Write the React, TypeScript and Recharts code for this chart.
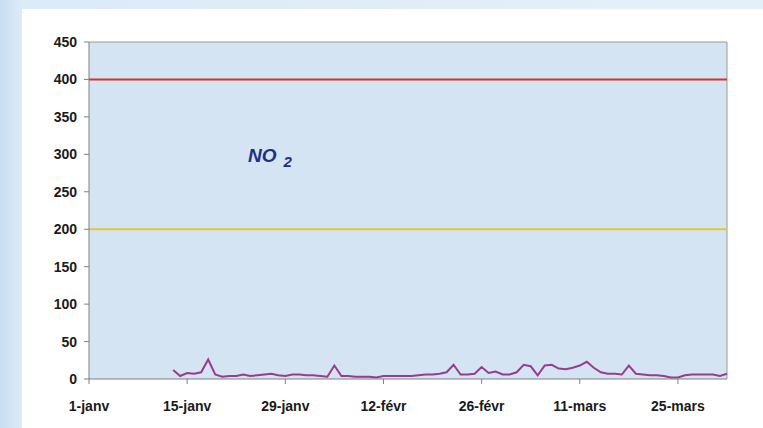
import React from 'react';
import { LineChart, Line, XAxis, YAxis, CartesianGrid, ReferenceLine } from 'recharts';

// day index 0 = 1-janv (leap year), 91 = 1-avril
const firstDay = 12;
const no2Values = [
  12, 4, 8, 7, 9, 26, 6, 3, 4, 4, 6, 4, 5, 6, 7, 5, 4, 6, 6, 5,
  5, 4, 3, 18, 4, 4, 3, 3, 3, 2, 4, 4, 4, 4, 4, 5, 6, 6, 7, 9,
  19, 6, 6, 7, 16, 8, 10, 6, 6, 9, 19, 17, 5, 18, 19, 14, 13, 15, 18, 23,
  15, 9, 7, 7, 6, 18, 7, 6, 5, 5, 4, 2, 2, 5, 6, 6, 6, 6, 4, 7,
];
const tickDays = [0, 14, 28, 42, 56, 70, 84];
const tickLabels = ['1-janv', '15-janv', '29-janv', '12-févr', '26-févr', '11-mars', '25-mars'];
const yTicks = [0, 50, 100, 150, 200, 250, 300, 350, 400, 450];
const limitHigh = 400;
const limitLow = 200;

const data = no2Values.map((v, i) => ({ day: firstDay + i, no2: v }));

const tickStyle = { fontSize: 14, fontWeight: 'bold', fontFamily: 'Liberation Sans, Arial, sans-serif', fill: '#1a1a1a' };

export default function App() {
  return (
    <div style={{ position: 'fixed', left: 0, top: 0, width: 763, height: 428, background: 'linear-gradient(90deg, #c8ddf2 0px, #dcebf8 22px, #e4eff9 100%)' }}>
      <div style={{ position: 'absolute', left: 22, top: 9, width: 741, height: 419, background: '#ffffff' }}>
        <LineChart width={741} height={419} data={data} margin={{ top: 33, right: 36, bottom: 19, left: 17 }}>
          <CartesianGrid fill="#d4e4f3" fillOpacity={1} horizontal={false} vertical={false} />
          <XAxis
            type="number"
            dataKey="day"
            domain={[0, 91]}
            ticks={tickDays}
            tickFormatter={(d) => tickLabels[tickDays.indexOf(d)]}
            tick={tickStyle}
            stroke="#7f8080"
            tickSize={5}
            tickMargin={17}
            interval={0}
            height={30}
          />
          <YAxis
            domain={[0, 450]}
            ticks={yTicks}
            tick={tickStyle}
            stroke="#7f8080"
            width={50}
            tickSize={5}
            tickMargin={7}
            interval={0}
          />
          <ReferenceLine y={450} stroke="#9a9a9a" strokeWidth={1} />
          <ReferenceLine x={91} stroke="#9a9a9a" strokeWidth={1} />
          <ReferenceLine y={limitHigh} stroke="#d9302b" strokeWidth={2} />
          <ReferenceLine y={limitLow} stroke="#e8c532" strokeWidth={2} />
          <Line type="linear" dataKey="no2" stroke="#983c8e" strokeWidth={2} dot={false} isAnimationActive={false} />
        </LineChart>
        <div style={{ position: 'absolute', left: 226, top: 136, fontFamily: 'Liberation Sans, Arial, sans-serif', fontWeight: 'bold', fontStyle: 'italic', fontSize: 19, color: '#1f2f86', whiteSpace: 'nowrap' }}>
          NO<span style={{ fontSize: 15, position: 'relative', top: 5, marginLeft: 7 }}>2</span>
        </div>
      </div>
    </div>
  );
}
